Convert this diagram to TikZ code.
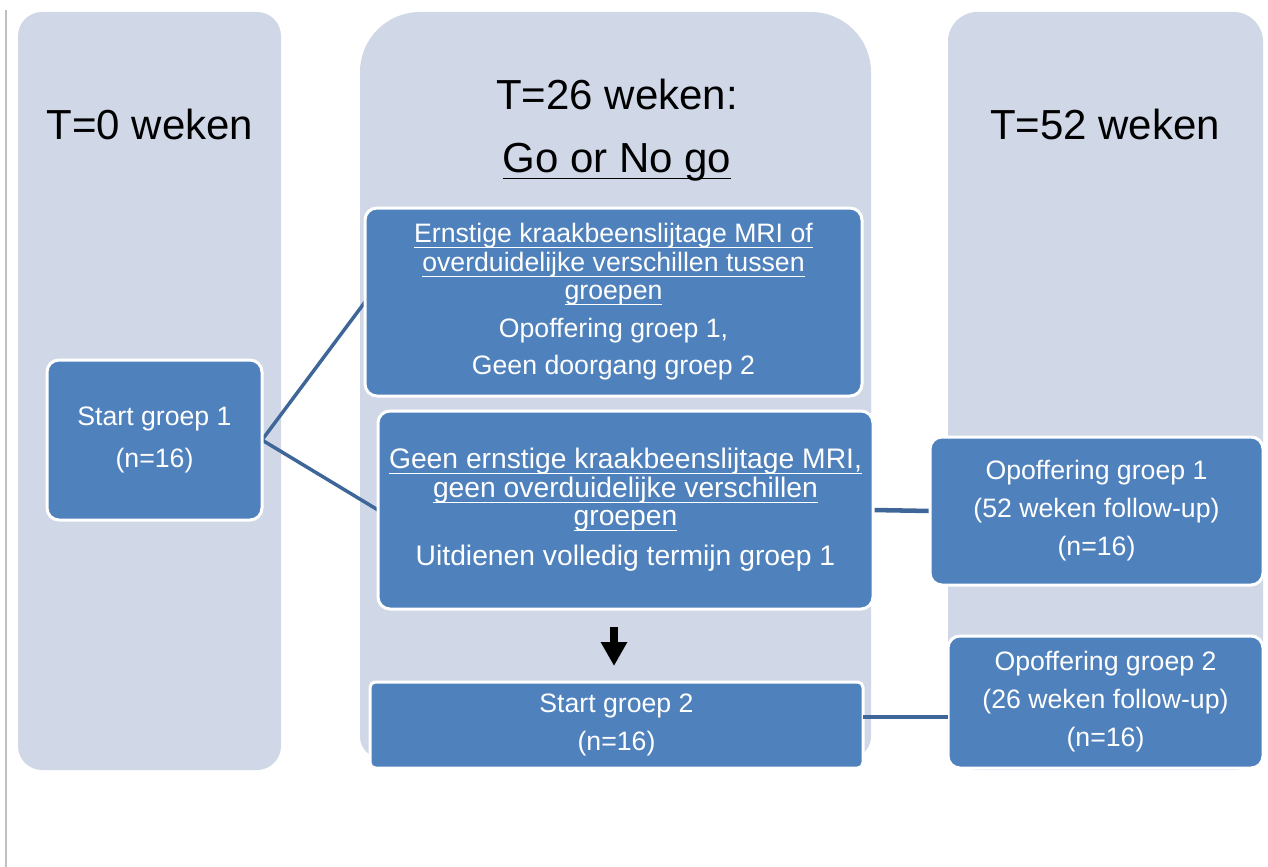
\documentclass[tikz,border=0pt]{standalone}
\usepackage{fontspec}
\setmainfont{Liberation Sans}
\usetikzlibrary{arrows.meta}
\definecolor{colfill}{HTML}{D0D8E8}
\definecolor{boxfill}{HTML}{4F81BD}
\definecolor{linecol}{HTML}{3F6698}
\definecolor{grayline}{HTML}{C0C0C0}
\pgfdeclarelayer{colbg}
\pgfdeclarelayer{linebg}
\pgfsetlayers{colbg,linebg,main}
\newcommand{\ulbody}[1]{\setbox0\hbox{#1}\rlap{\rule[-4.2pt]{\wd0}{0.9pt}}\box0}
\newcommand{\ulhead}[1]{\setbox0\hbox{#1}\rlap{\rule[-5.6pt]{\wd0}{1.4pt}}\box0}
\begin{document}
\begin{tikzpicture}[x=0.75pt,y=-0.75pt,
  box/.style={draw=white, line width=2.25pt, fill=boxfill, rounded corners=9pt, text=white, align=center, inner sep=0pt, outer sep=0pt, font=\fontsize{20}{28.5}\selectfont},
  ulbox/.style={box, font=\fontsize{20}{21.4}\selectfont},
  header/.style={anchor=base, font=\fontsize{31.5}{40}\selectfont, inner sep=0pt},
  conn/.style={draw=linecol, line width=2.6pt},
  hconn/.style={draw=linecol, line width=3.4pt},
  column/.style={fill=colfill}
]
\useasboundingbox (0,0) rectangle (1268,867);

% nodes
\node[box, minimum width=161.25pt, minimum height=120pt] (s1) at (154.5,440) {Start groep 1\\[3pt](n=16)};
\node[ulbox, minimum width=372.75pt, minimum height=141pt] (A) at (613.5,302)
  {\ulbody{Ernstige kraakbeenslijtage MRI of}\\
   \ulbody{overduidelijke verschillen tussen}\\
   \ulbody{groepen}\\[7pt]
   Opoffering groep 1,\\[6.5pt]
   Geen doorgang groep 2};
\node[ulbox, font=\fontsize{21.2}{21.4}\selectfont, minimum width=371.25pt, minimum height=148.5pt] (B) at (625.5,510)
  {\ulbody{Geen ernstige kraakbeenslijtage MRI,}\\
   \ulbody{geen overduidelijke verschillen}\\
   \ulbody{groepen}\\[8.6pt]
   Uitdienen volledig termijn groep 1};
\node[box, minimum width=249.75pt, minimum height=111pt] (o1) at (1096.5,511)
  {Opoffering groep 1\\(52 weken follow-up)\\(n=16)};
\node[box, rounded corners=4pt, minimum width=369.75pt, minimum height=64.5pt] (s2) at (616.5,725)
  {Start groep 2\\(n=16)};
\node[box, minimum width=236.25pt, minimum height=99pt] (o2) at (1105.5,702)
  {Opoffering groep 2\\(26 weken follow-up)\\(n=16)};

% headers
\node[header] (h1) at (150,139) {T=0 weken};
\node[header] (h2a) at (617,110) {T=26 weken:};
\node[header] (h2b) at (617,172) {\ulhead{Go or No go}};
\node[header] (h3) at (1105,139) {T=52 weken};

% columns
\begin{pgfonlayer}{colbg}
\fill[column, rounded corners=18pt] (18,12) rectangle (281,770);
\fill[column, rounded corners=45pt] (360,12) rectangle (871,500);
\fill[column, rounded corners=16pt] (360,300) rectangle (871,758);
\fill[column, rounded corners=22pt] (948,12) rectangle (1263,770);
\draw[grayline, line width=1.5pt] (5.5,10) -- (5.5,867);
\end{pgfonlayer}

% connectors
\begin{pgfonlayer}{linebg}
\draw[conn] (s1.east) -- (A.west);
\draw[conn] (s1.east) -- (B.west);
\draw[hconn] (B.east) -- (o1.west);
\end{pgfonlayer}
\draw[hconn] ([yshift=6pt]s2.east) -- ([yshift=6pt]s2.east -| o2.west);

% arrow
\coordinate (ar1) at (614,627);
\coordinate (ar2) at (614,666);
\draw[line width=6pt, -{Triangle[length=18pt,width=18.75pt]}] (ar1) -- (ar2);
\end{tikzpicture}
\end{document}
